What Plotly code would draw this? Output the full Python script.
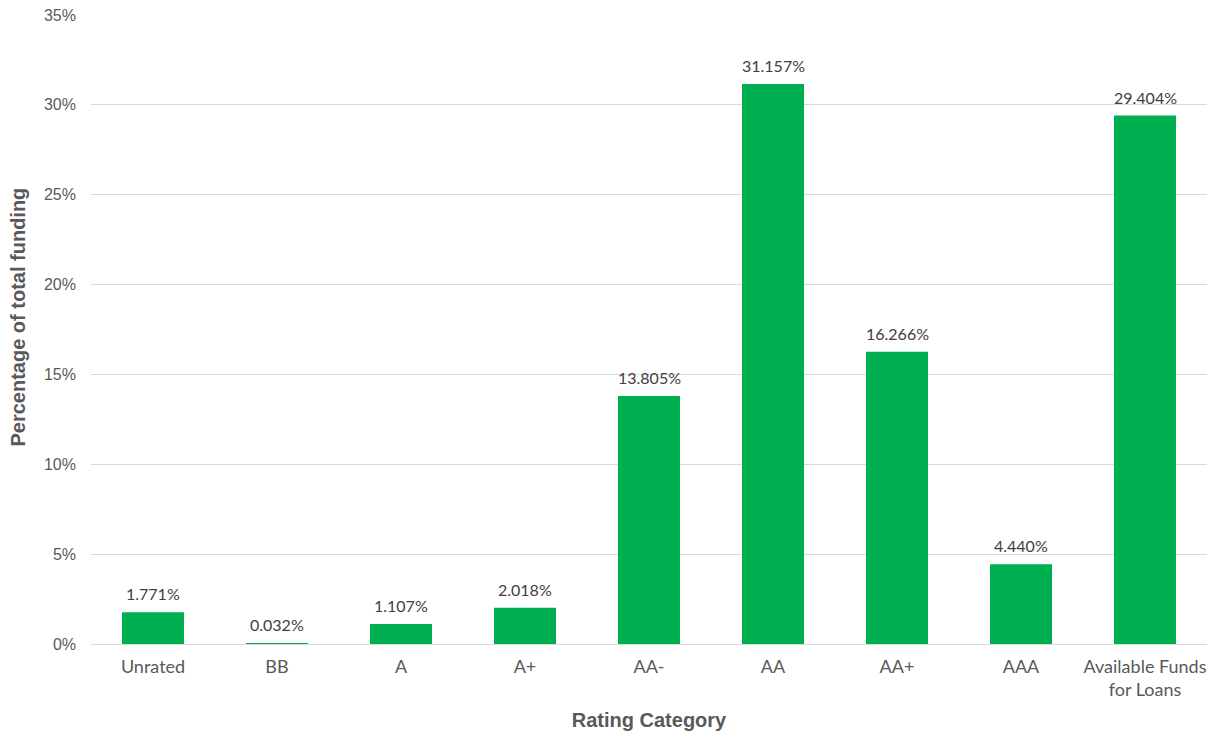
import plotly.graph_objects as go

categories = ["Unrated", "BB", "A", "A+", "AA-", "AA", "AA+", "AAA", "Available Funds<br>for Loans"]
values = [1.771, 0.032, 1.107, 2.018, 13.805, 31.157, 16.266, 4.440, 29.404]
y_ticks = [0, 5, 10, 15, 20, 25, 30, 35]
y_tick_labels = [f"{v}%" for v in y_ticks]

fig = go.Figure(go.Bar(
    x=categories, y=values,
    marker=dict(color="#00b050", line=dict(width=0)),
    width=0.5,
    hoverinfo="skip",
))

for c, v in zip(categories, values):
    fig.add_annotation(
        x=c, y=v, text=f"{v:.3f}%", showarrow=False,
        yanchor="bottom", yshift=7,
        font=dict(family="Lato, Open Sans, sans-serif", size=16, color="#404040"),
    )

# y-axis title (slightly above plot centre, as in the reference)
fig.add_annotation(
    xref="paper", yref="paper", x=-0.0654, y=0.519,
    text="<b>Percentage of total funding</b>", showarrow=False, textangle=-90,
    xanchor="center", yanchor="middle",
    font=dict(family="Liberation Sans, Arial", size=20, color="#595959"),
)

fig.update_layout(
    width=1214, height=733,
    margin=dict(l=91, r=7, t=15, b=89),
    plot_bgcolor="white", paper_bgcolor="white",
    showlegend=False,
    bargap=0.5,
    xaxis=dict(
        title=dict(text="<b>Rating Category</b>", font=dict(family="Liberation Sans, Arial", size=20, color="#595959"), standoff=13),
        tickfont=dict(family="Lato, Open Sans, sans-serif", size=18, color="#595959"),
        showgrid=False, showline=True, linecolor="#d9d9d9", linewidth=1,
        ticks="", ticklabelstandoff=6,
    ),
    yaxis=dict(
        range=[0, 35], tickvals=y_ticks, ticktext=y_tick_labels,
        tickfont=dict(family="Liberation Sans, Arial", size=16, color="#595959"),
        showgrid=True, gridcolor="#d9d9d9", gridwidth=1,
        zeroline=False, showline=False, ticks="", ticklabelstandoff=14,
    ),
)

fig.write_html("out.html")
